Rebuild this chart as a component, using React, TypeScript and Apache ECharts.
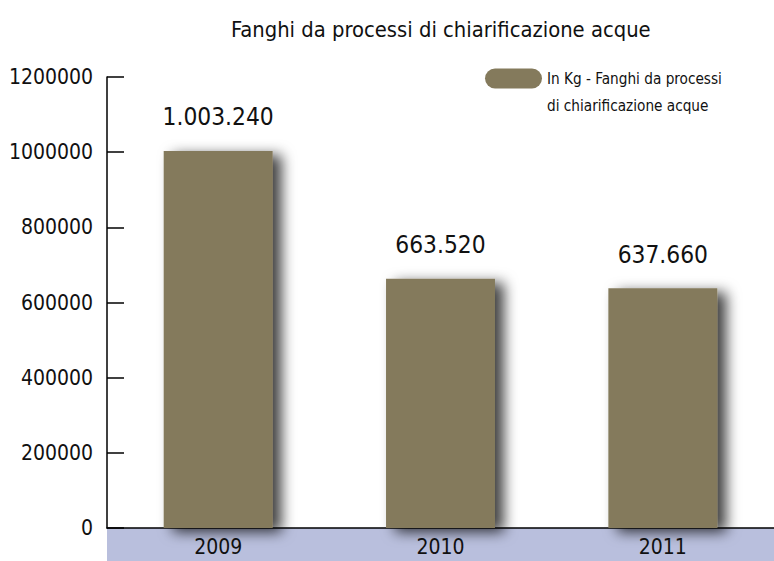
import React, { useEffect, useRef } from "react";
import * as echarts from "echarts";

const categories = ["2009", "2010", "2011"];
const values = [1003240, 663520, 637660];
const seriesName = "In Kg - Fanghi da processi\ndi chiarificazione acque";
const titleText = "Fanghi da processi di chiarificazione acque";

const FONT = "'Liberation Sans Narrow', 'DejaVu Sans Condensed', 'Roboto Condensed', 'Liberation Sans', sans-serif";

function fmt(v: number): string {
  return String(v).replace(/\B(?=(\d{3})+(?!\d))/g, ".");
}

export default function App() {
  const ref = useRef<HTMLDivElement>(null);
  useEffect(() => {
    if (!ref.current) return;
    const chart = echarts.init(ref.current, undefined, { renderer: "svg" });
    chart.setOption({
      animation: false,
      backgroundColor: "#ffffff",
      textStyle: { fontFamily: FONT },
      title: {
        text: titleText,
        left: 231,
        top: 18,
        padding: 0,
        textStyle: { fontFamily: FONT, fontSize: 21.8, fontWeight: "normal", color: "#111" },
      },
      legend: {
        left: 485,
        top: 38,
        padding: 0,
        itemWidth: 57,
        itemHeight: 20,
        itemGap: 6,
        icon: "path://M10,0 L47,0 A10,10 0 0 1 47,20 L10,20 A10,10 0 0 1 10,0 Z",
        formatter: (name: string) => "\n" + name,
        textStyle: { fontFamily: FONT, fontSize: 15.2, lineHeight: 27, color: "#111" },
        data: [seriesName],
      },
      graphic: [
        {
          type: "rect",
          z: -10,
          shape: { x: 107, y: 528, width: 667, height: 33 },
          style: { fill: "#b9bfdd" },
        },
      ],
      grid: { left: 107, right: 0, top: 77, bottom: 33, outerBoundsMode: "none", containLabel: false },
      xAxis: {
        type: "category",
        data: categories,
        axisLine: { lineStyle: { color: "#000", width: 1.5 } },
        axisTick: { inside: true, length: 10, lineStyle: { color: "#000", width: 1.5 } },
        axisLabel: { fontFamily: FONT, fontSize: 21, color: "#111", margin: 8 },
      },
      yAxis: {
        type: "value",
        min: 0,
        max: 1200000,
        interval: 200000,
        splitLine: { show: false },
        axisLine: { show: true, lineStyle: { color: "#000", width: 1.5 } },
        axisTick: { show: true, inside: true, length: 17, lineStyle: { color: "#000", width: 1.5 } },
        axisLabel: {
          fontFamily: FONT,
          fontSize: 21,
          color: "#111",
          margin: 14,
          formatter: (v: number) => String(v),
        },
      },
      series: [
        {
          name: seriesName,
          type: "bar",
          data: values,
          barWidth: "49%",
          itemStyle: {
            color: "#847a5c",
            shadowBlur: 14,
            shadowColor: "rgba(0,0,0,0.75)",
            shadowOffsetX: 9,
            shadowOffsetY: 4,
          },
          label: {
            show: true,
            position: "top",
            distance: 22,
            fontFamily: FONT,
            fontSize: 24.3,
            color: "#111",
            formatter: (p: any) => fmt(p.value),
          },
        },
      ],
    });
    return () => chart.dispose();
  }, []);
  return <div ref={ref} style={{ position: "fixed", left: 0, top: 0, width: 774, height: 561 }} />;
}
